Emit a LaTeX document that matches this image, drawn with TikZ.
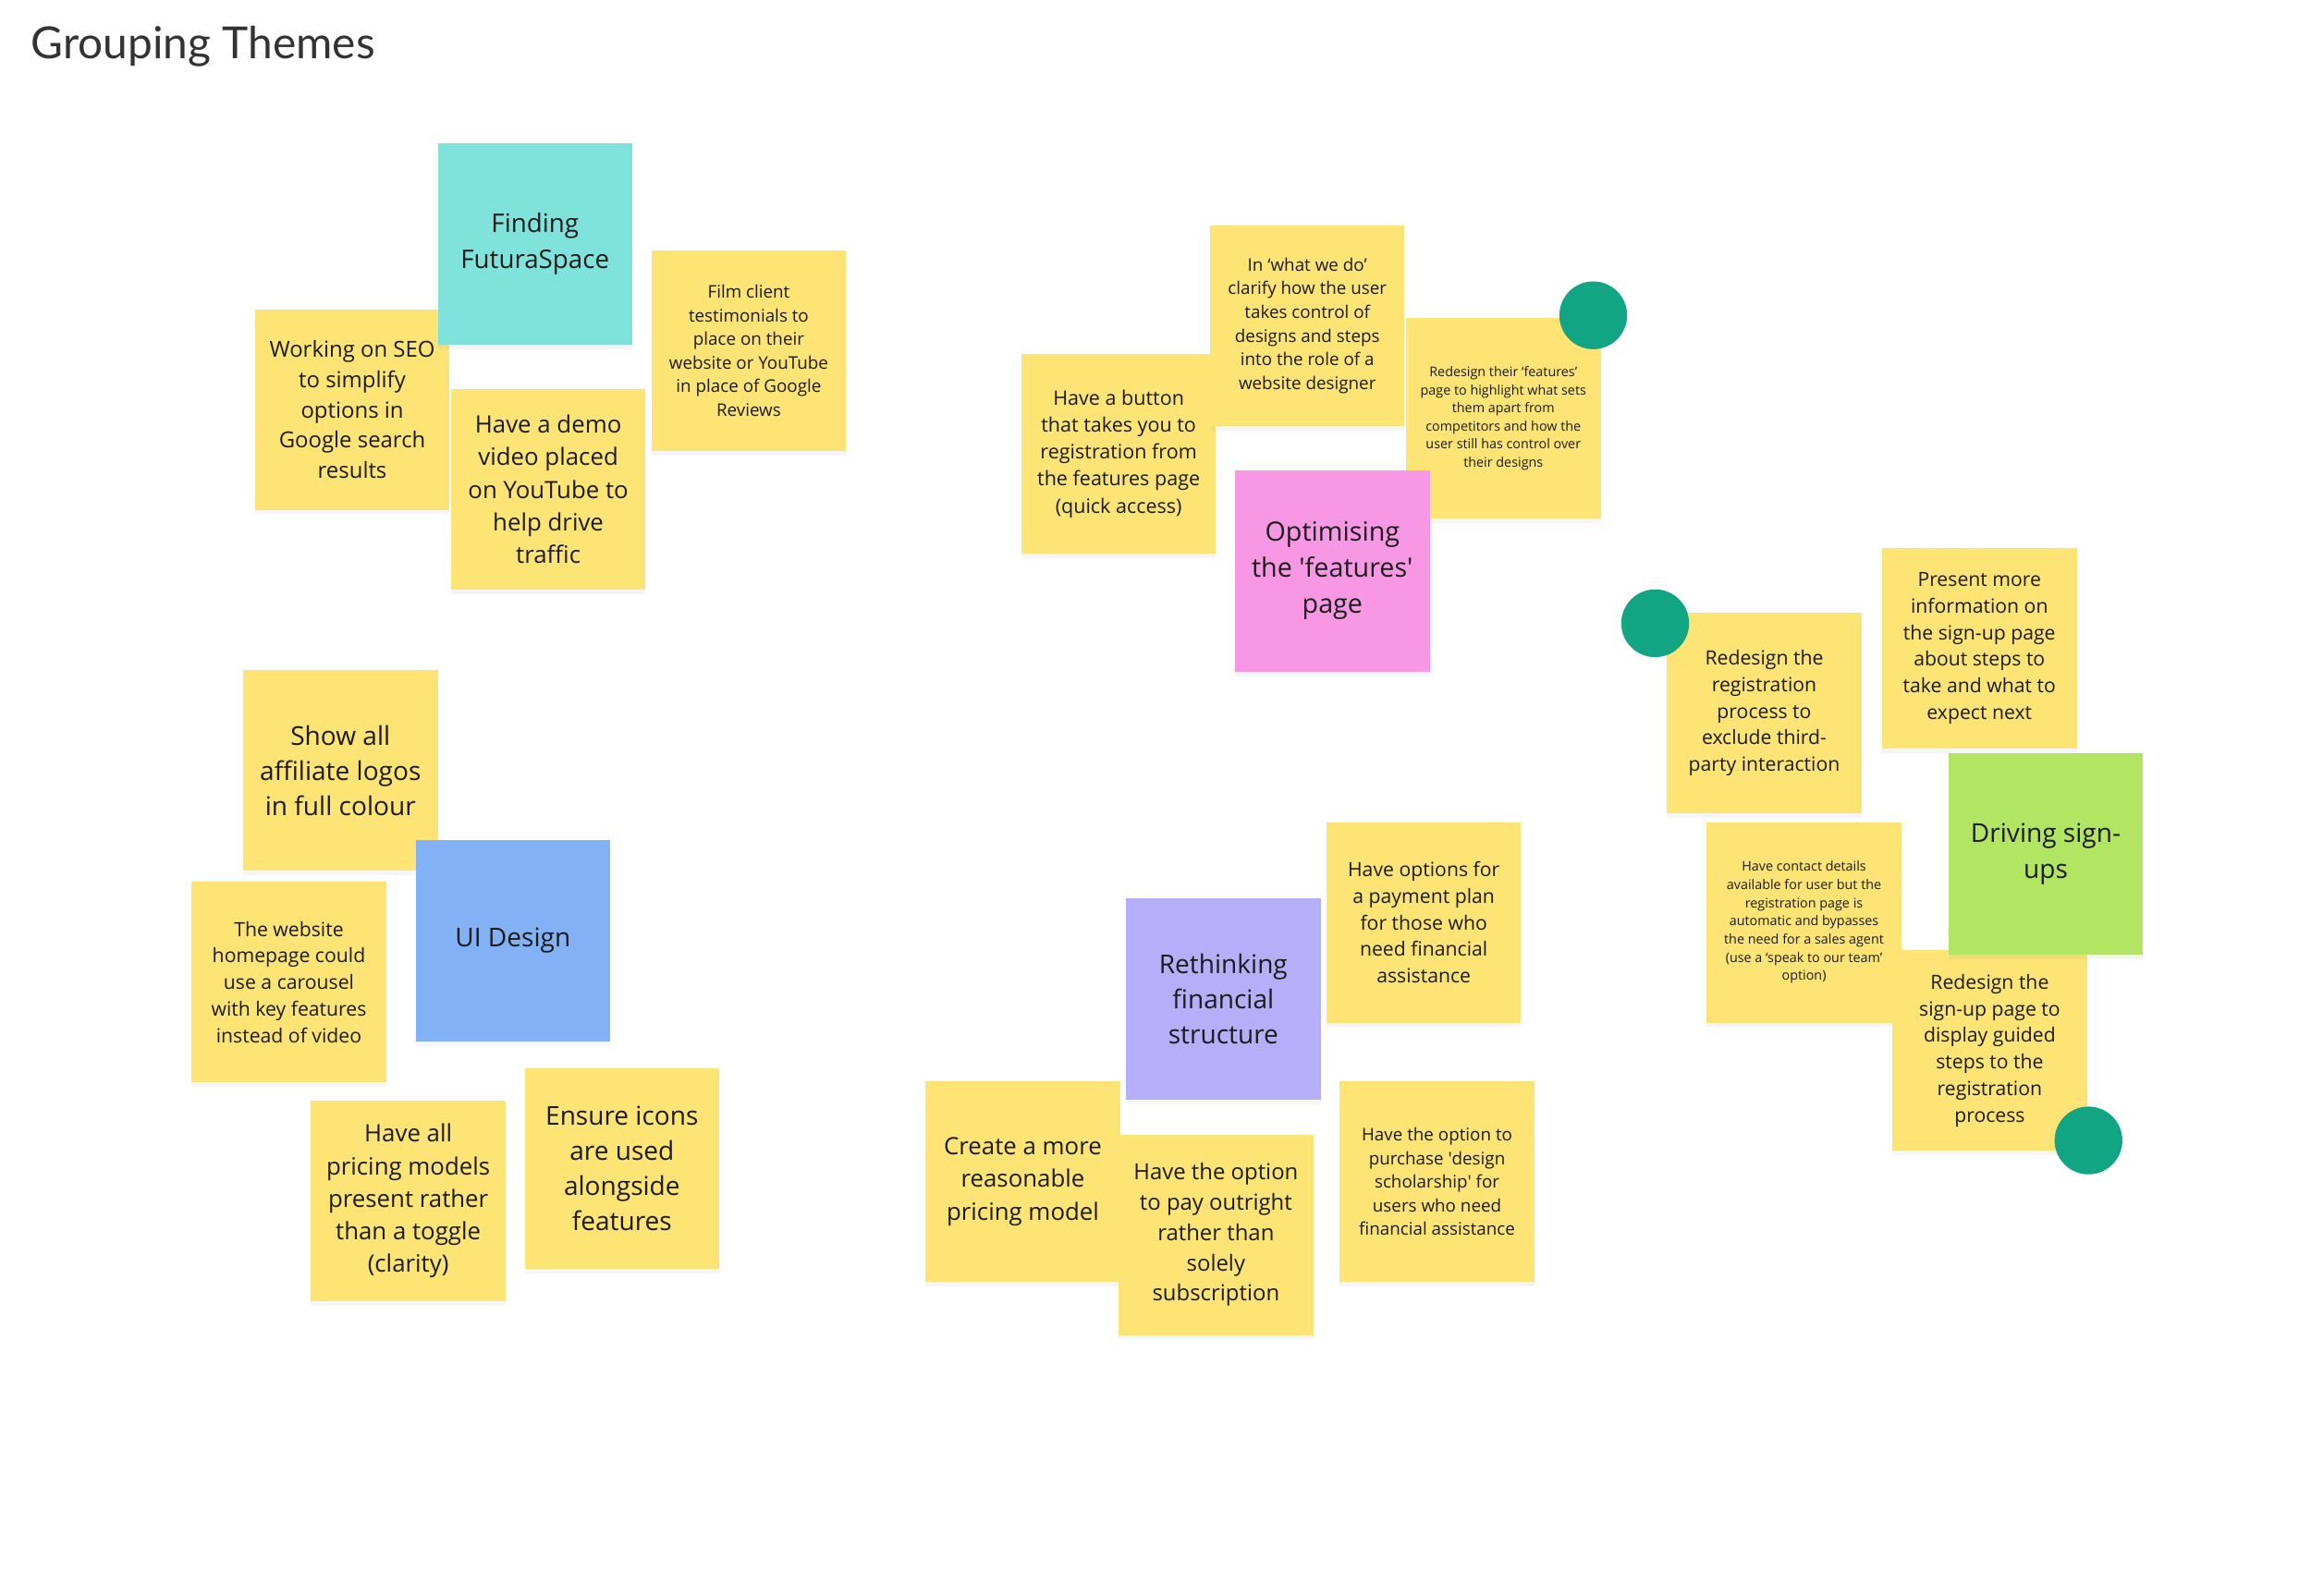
\documentclass[tikz,border=0pt]{standalone}
\usepackage{fontspec}
\setmainfont{Open Sans}
\newfontfamily\titlefont{Lato}
\usepackage{xcolor}
\usetikzlibrary{shadows}

\definecolor{notey}{HTML}{FDE474}
\definecolor{noteteal}{HTML}{80E3DB}
\definecolor{notepink}{HTML}{F898E4}
\definecolor{noteblue}{HTML}{83B1F5}
\definecolor{notegreen}{HTML}{B2E562}
\definecolor{notepurple}{HTML}{B6AEF8}
\definecolor{dotgreen}{HTML}{12A584}
\definecolor{inktext}{HTML}{1C1C1C}
\newcommand{\sq}{\textquotesingle}

\begin{document}
\begin{tikzpicture}[x=1pt, y=-1pt,
        note/.style={rectangle, fill=notey, minimum width=132pt, minimum height=136pt,
                     inner sep=0pt, align=center, text=inktext,
                     drop shadow={shadow xshift=0pt, shadow yshift=-3pt, opacity=0.08}},
        sz/.style 2 args={font=\fontsize{#1}{#2}\selectfont},
        dot/.style={circle, fill=dotgreen, minimum size=46pt, inner sep=0pt}]
    \useasboundingbox[fill=white] (0,0) rectangle (1568,1083);

    \node[anchor=base west, inner sep=0pt, text=black!80, font=\titlefont\fontsize{30}{35}\selectfont]
        (title) at (21,40) {Grouping Themes};

    % finding futuraspace
    \node[note, sz={15}{20.5}] (seo) at (239,278) {Working on SEO\\to simplify\\options in\\Google search\\results};
    \node[note, fill=noteteal, minimum height=137pt, sz={17.4}{24}] (finding) at (363,165.5) {Finding\\FuturaSpace};
    \node[note, sz={16.2}{22}] (demo) at (372,332) {Have a demo\\video placed\\on YouTube to\\help drive\\traffic};
    \node[note, sz={11.8}{16}] (film) at (508,238) {Film client\\testimonials to\\place on their\\website or YouTube\\in place of Google\\Reviews};

    % features page
    \node[note, sz={13.5}{18.3}] (button) at (759,308) {Have a button\\that takes you to\\registration from\\the features page\\(quick access)};
    \node[note, sz={11.8}{16}] (whatwedo) at (887,221) {In `what we do'\\clarify how the user\\takes control of\\designs and steps\\into the role of a\\website designer};
    \node[note, sz={9}{12.3}] (featredesign) at (1020,284) {Redesign their `features'\\page to highlight what sets\\them apart from\\competitors and how the\\user still has control over\\their designs};
    \node[note, fill=notepink, minimum height=137pt, sz={18}{24.5}] (optimising) at (904,387.5) {Optimising\\the \sq features\sq\\page};
    \node[dot] (dotA) at (1081,214) {};

    % sign-ups
    \node[note, sz={13.3}{18}] (regredesign) at (1197,484) {Redesign the\\registration\\process to\\exclude third-\\party interaction};
    \node[dot] (dotB) at (1123,423) {};
    \node[note, sz={13.3}{18}] (present) at (1343,440) {Present more\\information on\\the sign-up page\\about steps to\\take and what to\\expect next};
    \node[note, sz={9}{12.3}] (contact) at (1224,626) {Have contact details\\available for user but the\\registration page is\\automatic and bypasses\\the need for a sales agent\\(use a `speak to our team'\\option)};
    \node[note, sz={13.3}{18}] (signup) at (1350,713) {Redesign the\\sign-up page to\\display guided\\steps to the\\registration\\process};
    \node[note, fill=notegreen, minimum height=137pt, sz={17.6}{24}] (driving) at (1388,579.5) {Driving sign-\\ups};
    \node[dot] (dotC) at (1417,774) {};

    % ui design
    \node[note, sz={17.6}{24}] (showall) at (231,523) {Show all\\affiliate logos\\in full colour};
    \node[note, fill=noteblue, minimum height=137pt, sz={17.6}{24}] (ui) at (348,638.5) {UI Design};
    \node[note, sz={13.3}{18}] (homepage) at (196,666.5) {The website\\homepage could\\use a carousel\\with key features\\instead of video};
    \node[note, sz={16.2}{22}] (pricing) at (277,815) {Have all\\pricing models\\present rather\\than a toggle\\(clarity)};
    \node[note, sz={17.6}{24}] (icons) at (422,793) {Ensure icons\\are used\\alongside\\features};

    % financial structure
    \node[note, fill=notepurple, minimum height=137pt, sz={17.6}{24}] (rethinking) at (830,678) {Rethinking\\financial\\structure};
    \node[note, sz={13.3}{18}] (payplan) at (966,626) {Have options for\\a payment plan\\for those who\\need financial\\assistance};
    \node[note, sz={16.2}{22}] (reasonable) at (694,802) {Create a more\\reasonable\\pricing model};
    \node[note, sz={15}{20.5}] (outright) at (825,838) {Have the option\\to pay outright\\rather than\\solely\\subscription};
    \node[note, sz={11.8}{16}] (scholarship) at (975,802) {Have the option to\\purchase \sq design\\scholarship\sq\ for\\users who need\\financial assistance};
\end{tikzpicture}
\end{document}
